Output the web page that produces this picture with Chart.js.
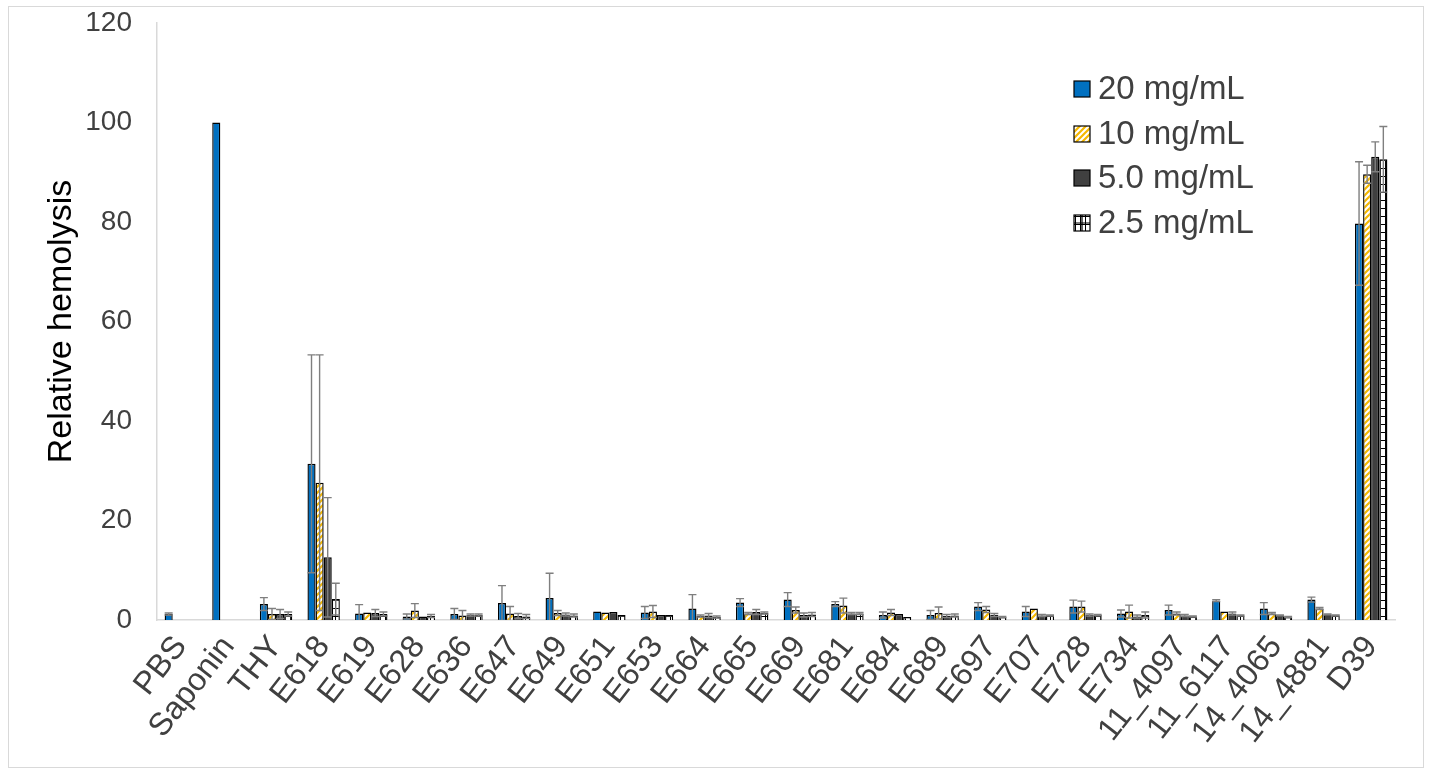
<!DOCTYPE html>
<html>
<head>
<meta charset="utf-8">
<script src="https://cdn.jsdelivr.net/npm/chart.js@4.4.1/dist/chart.umd.min.js"></script>
<style>
  html, body { margin: 0; padding: 0; background: #ffffff; }
  #wrap { position: relative; width: 1430px; height: 774px; }
</style>
</head>
<body>
<div id="wrap"><canvas id="c"></canvas></div>
<script>
// ---------- DATA ----------
const categories = ['PBS','Saponin','THY','E618','E619','E628','E636','E647','E649','E651','E653','E664','E665','E669','E681','E684','E689','E697','E707','E728','E734','11_4097','11_6117','14_4065','14_4881','D39'];
const seriesNames = ['20 mg/mL','10 mg/mL','5.0 mg/mL','2.5 mg/mL'];

const values20 = [1.2, 100, 3.2, 31.4, 1.3, 0.7, 1.2, 3.4, 4.4, 1.7, 1.5, 2.3, 3.5, 4.1, 3.2, 1.0, 1.0, 2.7, 1.7, 2.7, 1.3, 2.0, 3.9, 2.3, 4.1, 79.7];
const errors20 = [0.2, 0, 1.3, 21.9, 1.8, 0.5, 1.1, 3.5, 5.0, 0, 1.2, 2.8, 0.8, 1.4, 0.5, 0.6, 0.9, 0.8, 1.0, 1.3, 0.7, 1.0, 0.2, 1.2, 0.5, 12.4];

const values10 = [null, null, 1.2, 27.6, 1.5, 1.9, 0.9, 1.3, 1.4, 1.5, 1.7, 0.8, 1.3, 2.0, 2.9, 1.5, 1.4, 2.1, 2.3, 2.7, 1.7, 1.3, 1.7, 1.3, 2.3, 89.6];
const errors10 = [0, 0, 1.1, 25.7, 0, 1.4, 1.0, 1.4, 0.5, 0, 1.2, 0.2, 0.2, 0.6, 1.5, 0.6, 1.2, 0.6, 0, 1.1, 1.3, 0.3, 0, 0.2, 0.2, 1.8];

const values5 = [null, null, 1.2, 12.6, 1.4, 0.7, 1.0, 0.8, 1.1, 1.6, 1.0, 0.9, 1.6, 1.0, 1.3, 1.2, 0.8, 1.0, 0.9, 1.0, 0.7, 0.9, 1.3, 0.9, 1.1, 93.1];
const errors5 = [0, 0, 0.9, 12.0, 0.7, 0, 0.2, 0.5, 0.3, 0, 0, 0.4, 0.5, 0.4, 0.2, 0, 0.3, 0.3, 0.2, 0.2, 0.3, 0.2, 0.3, 0.1, 0.1, 3.0];

const values25 = [null, null, 1.2, 4.2, 1.2, 0.8, 1.0, 0.7, 0.9, 1.0, 1.0, 0.6, 1.4, 1.1, 1.3, 0.6, 0.9, 0.6, 0.9, 1.0, 1.0, 0.7, 0.9, 0.6, 0.9, 92.6];
const errors25 = [0, 0, 0.4, 3.2, 0.4, 0.3, 0.2, 0.4, 0.3, 0, 0, 0.2, 0.2, 0.4, 0.2, 0, 0.3, 0.1, 0.1, 0.1, 0.6, 0.1, 0.1, 0.1, 0.1, 6.6];

const yTicks = [0, 20, 40, 60, 80, 100, 120];
const yTitle = 'Relative hemolysis';

// ---------- PATTERNS ----------
function makeHatch() {
  const c = document.createElement('canvas');
  c.width = 6; c.height = 6;
  const g = c.getContext('2d');
  g.fillStyle = '#ffffff'; g.fillRect(0, 0, 6, 6);
  g.strokeStyle = '#F5B800'; g.lineWidth = 2.2;
  g.beginPath();
  g.moveTo(-1, 7); g.lineTo(7, -1);
  g.moveTo(-4, 4); g.lineTo(4, -4);
  g.moveTo(2, 10); g.lineTo(10, 2);
  g.stroke();
  return g.createPattern(c, 'repeat');
}
function makeGrid() {
  const c = document.createElement('canvas');
  c.width = 5; c.height = 8;
  const g = c.getContext('2d');
  g.fillStyle = '#ffffff'; g.fillRect(0, 0, 5, 8);
  g.fillStyle = '#000000';
  g.fillRect(0, 0, 1, 8);
  g.fillRect(0, 0, 5, 1);
  return g.createPattern(c, 'repeat');
}
const hatch = makeHatch();
const gridPat = makeGrid();

const fills = ['#0070C0', hatch, '#404040', gridPat];
const valueSets = [values20, values10, values5, values25];
const errorSets = [errors20, errors10, errors5, errors25];

// ---------- PLUGINS ----------
const frame = {
  id: 'frame',
  beforeDraw(chart) {
    const ctx = chart.ctx;
    ctx.save();
    ctx.fillStyle = '#ffffff';
    ctx.fillRect(0, 0, chart.width, chart.height);
    ctx.strokeStyle = '#d9d9d9';
    ctx.lineWidth = 1;
    ctx.strokeRect(8.5, 6.5, chart.width - 15, chart.height - 13);
    ctx.restore();
  }
};

const errorBars = {
  id: 'errorBars',
  afterDatasetsDraw(chart) {
    const ctx = chart.ctx;
    const ys = chart.scales.y;
    const area = chart.chartArea;
    ctx.save();
    ctx.beginPath();
    ctx.rect(area.left, area.top - 5, area.right - area.left, area.bottom - area.top + 5);
    ctx.clip();
    ctx.strokeStyle = '#7f7f7f';
    ctx.lineWidth = 1.4;
    chart.data.datasets.forEach((ds, i) => {
      const meta = chart.getDatasetMeta(i);
      const errs = errorSets[i];
      meta.data.forEach((bar, j) => {
        const v = ds.data[j];
        const e = errs[j];
        if (v === null || !e) return;
        const yTop = ys.getPixelForValue(v + e);
        const yBot = ys.getPixelForValue(v - e);
        const cap = 4;
        ctx.beginPath();
        ctx.moveTo(bar.x, yBot); ctx.lineTo(bar.x, yTop);
        ctx.moveTo(bar.x - cap, yTop); ctx.lineTo(bar.x + cap, yTop);
        ctx.moveTo(bar.x - cap, yBot); ctx.lineTo(bar.x + cap, yBot);
        ctx.stroke();
      });
    });
    ctx.restore();
  }
};

const legendBox = {
  id: 'legendBox',
  afterDraw(chart) {
    const ctx = chart.ctx;
    ctx.save();
    const x0 = 1074, size = 16;
    const rows = [89, 134, 178, 223];
    ctx.font = '33px "Liberation Sans", Arial, sans-serif';
    ctx.textBaseline = 'middle';
    ctx.textAlign = 'left';
    seriesNames.forEach((name, i) => {
      const cy = rows[i];
      ctx.fillStyle = fills[i];
      ctx.fillRect(x0, cy - size / 2, size, size);
      ctx.strokeStyle = '#000000';
      ctx.lineWidth = 1.2;
      if (i === 3) {
        ctx.beginPath();
        ctx.moveTo(x0 + size / 2, cy - size / 2); ctx.lineTo(x0 + size / 2, cy + size / 2);
        ctx.moveTo(x0, cy); ctx.lineTo(x0 + size, cy);
        ctx.stroke();
      }
      ctx.strokeRect(x0, cy - size / 2, size, size);
      ctx.fillStyle = '#404040';
      ctx.fillText(name, x0 + 24, cy + 1);
    });
    ctx.restore();
  }
};

// ---------- CHART ----------
const datasets = seriesNames.map((name, i) => ({
  label: name,
  data: valueSets[i],
  backgroundColor: fills[i],
  borderColor: '#000000',
  borderWidth: 1.4,
  barPercentage: 1.0,
  categoryPercentage: 0.68
}));

new Chart(document.getElementById('c'), {
  type: 'bar',
  data: { labels: categories, datasets },
  options: {
    responsive: true,
    maintainAspectRatio: false,
    animation: false,
    layout: { padding: { left: 0, right: 35, top: 23, bottom: 0 } },
    plugins: {
      legend: { display: false },
      tooltip: { enabled: false }
    },
    scales: {
      x: {
        grid: { display: false, drawTicks: false },
        border: { display: true, color: '#d9d9d9', width: 1.5 },
        ticks: {
          autoSkip: false,
          minRotation: 52,
          maxRotation: 52,
          padding: 9,
          color: '#404040',
          font: { family: '"Liberation Sans", Arial, sans-serif', size: 32 }
        },
        afterFit(scale) { scale.height = 154; }
      },
      y: {
        min: 0,
        max: 120,
        afterBuildTicks(scale) { scale.ticks = yTicks.map(v => ({ value: v })); },
        grid: { display: false, drawTicks: false },
        border: { display: true, color: '#d9d9d9', width: 1.5 },
        ticks: {
          padding: 25,
          color: '#404040',
          font: { family: '"Liberation Sans", Arial, sans-serif', size: 28 }
        },
        title: {
          display: true,
          text: yTitle,
          color: '#000000',
          padding: { top: 41, bottom: 0 },
          font: { family: '"Liberation Sans", Arial, sans-serif', size: 34 }
        },
        afterFit(scale) {
          scale.width = 157;
          scale.paddingTop = 17;
          scale.paddingBottom = 17;
        }
      }
    }
  },
  plugins: [frame, errorBars, legendBox]
});
</script>
</body>
</html>
